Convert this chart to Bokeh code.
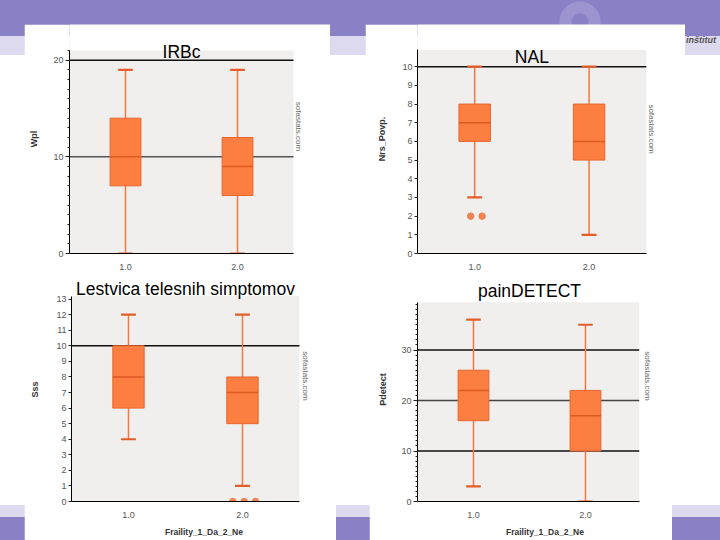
import math
from bokeh.plotting import figure
from bokeh.models import Range1d, FixedTicker, Label, Spacer, Div, ColumnDataSource, BoxAnnotation
from bokeh.layouts import row, column
from bokeh.embed import file_html
from bokeh.resources import INLINE

# ---------------- data ----------------
groups = ["1.0", "2.0"]
group_x = [1, 2]
x_label = "Fraility_1_Da_2_Ne"

# IRBc (Wpl)
irbc_lo = [0, 0]
irbc_q1 = [7, 6]
irbc_med = [10, 9]
irbc_q3 = [14, 12]
irbc_hi = [19, 19]
irbc_out = [[], []]
irbc_ref = [10, 20]
irbc_ticks = [0, 10, 20]

# NAL (Nrs_Povp.)
nal_lo = [3, 1]
nal_q1 = [6, 5]
nal_med = [7, 6]
nal_q3 = [8, 8]
nal_hi = [10, 10]
nal_out = [[2, 2], []]
nal_ref = [10]
nal_ticks = list(range(0, 11))

# Lestvica telesnih simptomov (Sss)
sss_lo = [4, 1]
sss_q1 = [6, 5]
sss_med = [8, 7]
sss_q3 = [10, 8]
sss_hi = [12, 12]
sss_out = [[], [0, 0, 0]]
sss_ref = [10]
sss_ticks = list(range(0, 14))

# painDETECT (Pdetect)
pd_lo = [3, 0]
pd_q1 = [16, 10]
pd_med = [22, 17]
pd_q3 = [26, 22]
pd_hi = [36, 35]
pd_out = [[], []]
pd_ref = [10, 20, 30]
pd_ticks = [0, 10, 20, 30]

# ---------------- style ----------------
FONT = "Liberation Sans"
BOX_FILL = "#fc7e41"
BOX_LINE = "#e8652f"
WHISK = "#f07a45"
CAP = "#e35d27"
MED = "#dd5a22"
OUT = "#f08352"
PLOT_BG = "#f0efee"
PURPLE = "#8a80c6"
LAVENDER = "#dddaf0"
BOX_W = 0.275
CAP_W = 0.13


def make_panel(lo, q1, med, q3, hi, outs, refs, ref_colors, ticks, minor,
               gray_top, gray_right, x_end, y_end,
               title, title_y, ylabel, ylabel_standoff, xlab, sofa_x, sofa_y,
               w, h, ml, mb, tick_out, minor_out):
    p = figure(width=w, height=h, x_range=Range1d(0.5, x_end), y_range=Range1d(0, y_end),
               output_backend="svg", toolbar_location=None,
               min_border_left=ml, min_border_right=0, min_border_top=0, min_border_bottom=mb)
    p.background_fill_color = "white"
    p.border_fill_color = "white"
    p.outline_line_color = None
    p.xgrid.visible = False
    p.ygrid.visible = False

    # grey plotting area
    p.add_layout(BoxAnnotation(left=0.5, right=gray_right, bottom=0, top=gray_top,
                               fill_color=PLOT_BG, fill_alpha=1, line_color=None,
                               level="underlay"))

    # reference lines (under boxes)
    for yv, c in zip(refs, ref_colors):
        p.segment(x0=[0.5], y0=[yv], x1=[gray_right], y1=[yv], line_color=c, line_width=1.5)

    src = ColumnDataSource(dict(x=group_x, lo=lo, q1=q1, med=med, q3=q3, hi=hi,
                                cl=[x - CAP_W / 2 for x in group_x],
                                cr=[x + CAP_W / 2 for x in group_x],
                                ml=[x - BOX_W / 2 for x in group_x],
                                mr=[x + BOX_W / 2 for x in group_x]))
    p.segment(x0="x", y0="q3", x1="x", y1="hi", source=src, line_color=WHISK, line_width=1.5)
    p.segment(x0="x", y0="q1", x1="x", y1="lo", source=src, line_color=WHISK, line_width=1.5)
    p.vbar(x="x", width=BOX_W, bottom="q1", top="q3", source=src,
           fill_color=BOX_FILL, line_color=BOX_LINE, line_width=1)
    p.segment(x0="ml", y0="med", x1="mr", y1="med", source=src, line_color=MED, line_width=1.5)
    p.segment(x0="cl", y0="hi", x1="cr", y1="hi", source=src, line_color=CAP, line_width=2.2)
    p.segment(x0="cl", y0="lo", x1="cr", y1="lo", source=src, line_color=CAP, line_width=2.2)

    ox, oy = [], []
    for gx, vals in zip(group_x, outs):
        n = len(vals)
        for k, v in enumerate(vals):
            ox.append(gx + (k - (n - 1) / 2) * 0.1 + 0.015)
            oy.append(v)
    if ox:
        p.scatter(x=ox, y=oy, size=6.5, fill_color=OUT, line_color=OUT)

    # axes
    ya = p.yaxis[0]
    ya.bounds = (0, gray_top)
    ya.ticker = FixedTicker(ticks=ticks, minor_ticks=minor)
    ya.axis_line_color = "black"
    ya.major_tick_line_color = "#222222"
    ya.minor_tick_line_color = "#222222"
    ya.major_tick_out = tick_out
    ya.major_tick_in = 0
    ya.minor_tick_out = minor_out
    ya.minor_tick_in = 0
    ya.major_label_standoff = 2
    ya.major_label_text_font = FONT
    ya.major_label_text_font_size = "9px"
    ya.major_label_text_color = "#555555"
    ya.axis_label = ylabel
    ya.axis_label_text_font = FONT
    ya.axis_label_text_font_size = "9px"
    ya.axis_label_text_font_style = "bold"
    ya.axis_label_text_color = "#333333"
    ya.axis_label_standoff = ylabel_standoff

    xa = p.xaxis[0]
    xa.bounds = (0.5, gray_right)
    xa.ticker = FixedTicker(ticks=group_x, minor_ticks=[])
    xa.major_label_overrides = {gx: g for gx, g in zip(group_x, groups)}
    xa.axis_line_color = "black"
    xa.axis_line_width = 1.2
    xa.major_tick_out = 0
    xa.major_tick_in = 0
    xa.minor_tick_out = 0
    xa.minor_tick_in = 0
    xa.major_label_standoff = 10
    xa.major_label_text_font = FONT
    xa.major_label_text_font_size = "9px"
    xa.major_label_text_color = "#555555"
    if xlab:
        xa.axis_label = xlab
        xa.axis_label_text_font = FONT
        xa.axis_label_text_font_size = "8.5px"
        xa.axis_label_text_font_style = "bold"
        xa.axis_label_text_color = "#333333"
        xa.axis_label_standoff = 6

    p.add_layout(Label(x=1.5, y=title_y, text=title, text_align="center",
                       text_baseline="middle", text_font=FONT, text_font_size="17.5px",
                       text_color="black"))
    p.add_layout(Label(x=sofa_x, y=sofa_y, text="sofastats.com",
                       angle=-math.pi / 2, text_align="center", text_baseline="middle",
                       text_font=FONT, text_font_size="8px", text_color="#666666"))
    return p


p_tl = make_panel(irbc_lo, irbc_q1, irbc_med, irbc_q3, irbc_hi, irbc_out, irbc_ref,
                  ["#555555", "#111111"], irbc_ticks, list(range(0, 22)),
                  21.0, 2.5, 2.83, 23.69,
                  "IRBc", 20.8, "Wpl", 11, None, 2.54, 13.14,
                  306, 253, 45, 24, 4, 2)
p_tr = make_panel(nal_lo, nal_q1, nal_med, nal_q3, nal_hi, nal_out, nal_ref,
                  ["#111111"], nal_ticks, [],
                  10.9, 2.5, 2.843, 12.26,
                  "NAL", 10.54, "Nrs_Povp.", 12, None, 2.545, 6.66,
                  320, 253, 52, 20, 3, 0)
p_bl = make_panel(sss_lo, sss_q1, sss_med, sss_q3, sss_hi, sss_out, sss_ref,
                  ["#111111"], sss_ticks, [],
                  13.2, 2.5, 2.825, 14.39,
                  "Lestvica telesnih simptomov", 13.66, "Sss", 13, x_label, 2.553, 8.06,
                  312, 263, 47, 38, 3, 0)
p_br = make_panel(pd_lo, pd_q1, pd_med, pd_q3, pd_hi, pd_out, pd_ref,
                  ["#111111", "#444444", "#111111"], pd_ticks, list(range(0, 40)),
                  39.47, 2.48, 2.777, 44.36,
                  "painDETECT", 41.78, "Pdetect", 10, x_label, 2.553, 24.85,
                  303, 263, 48, 39, 4, 2)

inst = Div(text='<div style="padding-top:10px;padding-left:1px;font-family:\'Liberation Sans\';'
                'font-size:9px;font-style:italic;font-weight:bold;color:#555555;'
                'white-space:nowrap;">inštitut</div>',
           width=35, height=253, margin=0)

top_row = row(Spacer(width=24, height=253), p_tl, Spacer(width=35, height=253), p_tr, inst)
bot_row = row(Spacer(width=24, height=263), p_bl, Spacer(width=33, height=263), p_br,
              Spacer(width=48, height=263))

logo = ("radial-gradient(circle at 580px 22px, rgba(255,255,255,0) 0px, rgba(255,255,255,0) 8px, "
        "rgba(255,255,255,0.16) 9px, rgba(255,255,255,0.16) 20px, rgba(255,255,255,0) 21px)")
bands = ("linear-gradient(to bottom, {p} 0px, {p} 36px, {l} 36px, {l} 55px, #ffffff 55px, "
         "#ffffff 505px, {l} 505px, {l} 517px, {p} 517px, {p} 540px)").format(p=PURPLE, l=LAVENDER)

root = column(Spacer(width=720, height=24), top_row, bot_row, width=720, height=540,
              styles={"background": logo + ", " + bands})

open("out.html", "w").write(file_html(root, INLINE))
